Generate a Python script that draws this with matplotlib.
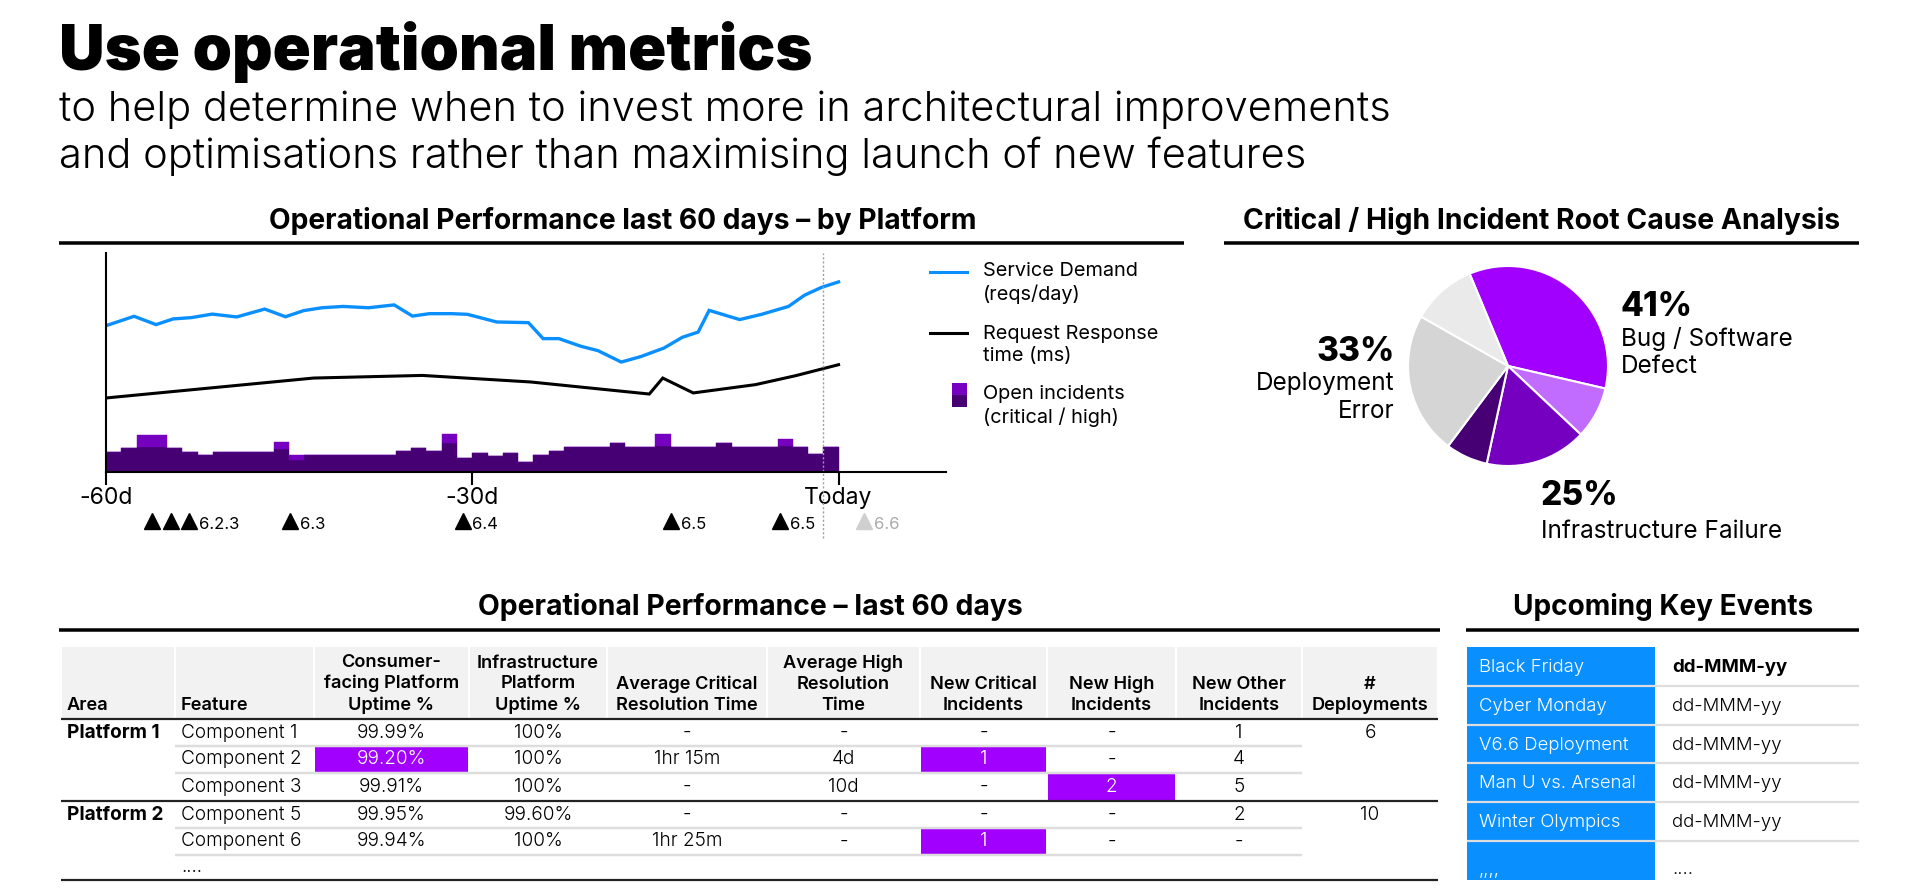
import matplotlib
matplotlib.use('Agg')
import matplotlib.pyplot as plt
from matplotlib.patches import Rectangle
import numpy as np

W, H = 1914, 896
FONT = 'Inter'
plt.rcParams['font.family'] = [FONT, 'DejaVu Sans']

# ---------------- data ----------------
# service demand (relative scale 0-100), day offsets from today
demand_days = [-60, -57.7, -55.9, -54.5, -53.0, -51.3, -49.3, -47.0, -45.3, -43.8, -42.3, -40.6,
               -38.5, -36.4, -34.9, -33.5, -31.7, -30.4, -28.0, -25.4, -24.2, -22.9, -21.1, -19.7,
               -17.8, -16.2, -14.3, -12.8, -11.5, -10.6, -8.1, -6.3, -4.1, -2.8, -1.4, 0]
demand = [66.8, 71.1, 67.3, 69.9, 70.5, 72.1, 70.8, 74.4, 70.9, 73.7, 75.0, 75.6,
          75.0, 76.3, 71.2, 72.3, 72.3, 72.0, 68.5, 68.2, 60.9, 60.9, 57.4, 55.4,
          50.2, 52.7, 56.6, 61.5, 63.9, 73.8, 69.6, 72.0, 75.6, 80.7, 84.3, 86.8]

response_days = [-60, -43.0, -34.1, -25.2, -15.5, -14.4, -11.9, -6.8, -3.5, 0]
response = [33.8, 42.9, 44.1, 41.1, 35.6, 42.9, 36.1, 39.9, 44.0, 49.0]

# open incidents per period (48 periods over the last 60 days)
high_incidents = [9.0, 10.8, 11.3, 11.3, 10.8, 9.0, 7.6, 9.0, 9.0, 9.0, 9.0, 10.4,
                  5.5, 7.6, 7.6, 7.6, 7.6, 7.6, 7.6, 9.4, 10.8, 9.4, 13.1, 6.2,
                  8.5, 7.2, 8.5, 4.4, 7.6, 9.4, 11.3, 11.3, 11.3, 13.1, 11.3, 11.3,
                  11.7, 11.3, 11.3, 11.3, 13.1, 11.3, 11.3, 11.3, 11.7, 11.3, 8.1, 11.3]
critical_incidents = [0, 0, 5.5, 5.5, 0, 0, 0, 0, 0, 0, 0, 3.2,
                      2.1, 0, 0, 0, 0, 0, 0, 0, 0, 0, 4.1, 0,
                      0, 0, 0, 0, 0, 0, 0, 0, 0, 0, 0, 0,
                      5.5, 0, 0, 0, 0, 0, 0, 0, 3.2, 0, 0, 0]
period_len = 60 / len(high_incidents)

release_days = [-56.2, -54.7, -53.2, -44.9, -30.8, -13.7, -4.8, 2.1]
release_labels = ['', '', '6.2.3', '6.3', '6.4', '6.5', '6.5', '6.6']
release_planned = [False, False, False, False, False, False, False, True]
today_marker = -1.3

# root cause pie
cause_shares = [34.9, 8.4, 16.4, 6.8, 23.0, 10.5]
cause_colors = ['#A100FF', '#C16BFF', '#7500C0', '#460073', '#D5D5D5', '#EAEAEA']

# performance table
headers = ['Area', 'Feature', 'Consumer-\nfacing Platform\nUptime %', 'Infrastructure\nPlatform\nUptime %',
           'Average Critical\nResolution Time', 'Average High\nResolution\nTime', 'New Critical\nIncidents',
           'New High\nIncidents', 'New Other\nIncidents', '#\nDeployments']
areas = ['Platform 1', '', '', 'Platform 2', '', '']
features = ['Component 1', 'Component 2', 'Component 3', 'Component 5', 'Component 6', '....']
consumer_uptime = ['99.99%', '99.20%', '99.91%', '99.95%', '99.94%', '']
infra_uptime = ['100%', '100%', '100%', '99.60%', '100%', '']
avg_critical = ['-', '1hr 15m', '-', '-', '1hr 25m', '']
avg_high = ['-', '4d', '10d', '-', '-', '']
new_critical = ['-', '1', '-', '-', '1', '']
new_high = ['-', '-', '2', '-', '-', '']
new_other = ['1', '4', '5', '2', '-', '']
deployments = ['6', '', '', '10', '', '']
flagged = [(1, 2), (1, 6), (2, 7), (4, 6)]

events = ['Black Friday', 'Cyber Monday', 'V6.6 Deployment', 'Man U vs. Arsenal', 'Winter Olympics', ',,,,']
event_dates = ['dd-MMM-yy', 'dd-MMM-yy', 'dd-MMM-yy', 'dd-MMM-yy', 'dd-MMM-yy', '....']

PURPLE = '#A100FF'
BLUE = '#0A8FFF'

# ---------------- figure ----------------
fig = plt.figure(figsize=(W / 100, H / 100), dpi=100)
renderer = fig.canvas.get_renderer()
ov = fig.add_axes([0, 0, 1, 1])
ov.set_xlim(0, W)
ov.set_ylim(H, 0)
ov.axis('off')


def txt(x, y, s, width=None, **kw):
    t = ov.text(x, y, s, **kw)
    if width:
        w = t.get_window_extent(renderer).width
        t.set_fontsize(t.get_fontsize() * width / w)
    return t


def fitted_size(s, width, **kw):
    # measure a throwaway text to get the font size that gives this width
    t = txt(W / 2, H / 2, s, width=width, **kw)
    size = t.get_fontsize()
    t.remove()
    return size


def hline(x0, x1, y, lw=3.5, color='black'):
    ov.plot([x0, x1], [y, y], color=color, lw=lw * 0.72, solid_capstyle='butt')


# header
txt(59, 70, 'Use operational metrics', width=753, fontsize=40, fontweight=900, va='baseline')
sub = txt(59, 121, 'to help determine when to invest more in architectural improvements',
          width=1330, fontsize=24, fontweight=300, va='baseline')
txt(59, 168, 'and optimisations rather than maximising launch of new features',
    fontsize=sub.get_fontsize(), fontweight=300, va='baseline')

# section titles
txt(623, 229, 'Operational Performance last 60 days \u2013 by Platform', width=708, fontsize=18,
    fontweight=700, ha='center', va='baseline')
hline(59, 1184, 243)
txt(1542, 229, 'Critical / High Incident Root Cause Analysis', width=597, fontsize=18,
    fontweight=700, ha='center', va='baseline')
hline(1224, 1859, 243)
txt(750, 615, 'Operational Performance \u2013 last 60 days', width=545, fontsize=18,
    fontweight=700, ha='center', va='baseline')
hline(59, 1440, 630)
txt(1663, 615, 'Upcoming Key Events', width=300, fontsize=18,
    fontweight=700, ha='center', va='baseline')
hline(1466, 1859, 630)

# ---------------- line chart ----------------
ax = fig.add_axes([106 / W, 1 - 472 / H, 840 / W, 219 / H])
ax.patch.set_alpha(0)
bar_starts = np.arange(-60, 0, period_len)
ax.bar(bar_starts, high_incidents, width=period_len, align='edge', color='#460073',
       edgecolor='#460073', linewidth=0.3)
ax.bar(bar_starts, critical_incidents, bottom=high_incidents, width=period_len, align='edge',
       color='#7500C0', edgecolor='#7500C0', linewidth=0.3)
ax.plot(demand_days, demand, color=BLUE, lw=2.4, solid_joinstyle='miter')
ax.plot(response_days, response, color='black', lw=2.2, solid_joinstyle='miter')
ax.axvline(today_marker, ymin=-0.30, ymax=1.0, clip_on=False, color='#a0a0a0',
           ls=(0, (1.5, 1.5)), lw=1)
ax.set_xlim(-60, 8.8)
ax.set_ylim(0, 100)
for s in ['top', 'right']:
    ax.spines[s].set_visible(False)
for s in ['left', 'bottom']:
    ax.spines[s].set_linewidth(1.5)
ax.set_yticks([])
ax.set_xticks([-60, -30, 0])
ax.set_xticklabels(['-60d', '-30d', 'Today'])
ax.tick_params(axis='x', length=9, width=1.5, pad=2, labelsize=16.5)

xt = ax.get_xaxis_transform()
for d, lab, planned in zip(release_days, release_labels, release_planned):
    c = '#cfcfcf' if planned else 'black'
    ax.plot(d, -0.222, marker='^', ms=11, color=c, transform=xt, clip_on=False)
    if lab:
        ax.text(d + 0.8, -0.24, lab, transform=xt, fontsize=12, color='#aaaaaa' if planned else 'black',
                va='center', ha='left')

# legend
lsize = fitted_size('Request Response', 175, fontsize=13)
ov.plot([930, 967], [272, 272], color=BLUE, lw=2.2)
txt(983, 283, 'Service Demand\n(reqs/day)', fontsize=lsize, va='center', linespacing=1.25)
ov.plot([930, 967], [333, 333], color='black', lw=2.2)
txt(983, 345, 'Request Response\ntime (ms)', fontsize=lsize, va='center', linespacing=1.25)
ov.add_patch(Rectangle((952, 383), 15, 12, color='#7500C0', lw=0))
ov.add_patch(Rectangle((952, 395), 15, 12, color='#460073', lw=0))
txt(983, 406, 'Open incidents\n(critical / high)', fontsize=lsize, va='center', linespacing=1.25)

# ---------------- pie ----------------
axp = fig.add_axes([1383 / W, 1 - 491 / H, 250 / W, 250 / H])
axp.pie(cause_shares, colors=cause_colors, startangle=112.6, counterclock=False,
        wedgeprops=dict(edgecolor='white', linewidth=1.5))
axp.set_aspect('equal')

bsz = fitted_size('41%', 72, fontsize=26, fontweight=800)
psz = fitted_size('Infrastructure Failure', 242, fontsize=16)
txt(1621, 316, '41%', fontsize=bsz, fontweight=800, va='baseline')
txt(1621, 346, 'Bug / Software', fontsize=psz, va='baseline')
txt(1621, 373, 'Defect', fontsize=psz, va='baseline')
txt(1395, 361, '33%', fontsize=bsz, fontweight=800, ha='right', va='baseline')
txt(1395, 390, 'Deployment', fontsize=psz, ha='right', va='baseline')
txt(1395, 418, 'Error', fontsize=psz, ha='right', va='baseline')
txt(1541, 505, '25%', fontsize=bsz, fontweight=800, va='baseline')
txt(1541, 538, 'Infrastructure Failure', fontsize=psz, va='baseline')

# ---------------- performance table ----------------
col_edges = [61, 175, 314, 469, 607, 767, 920, 1047, 1176, 1302, 1438]
row_edges = [719, 746, 773, 801, 828, 855, 880]
head_top = 647

hsize = fitted_size('Average Critical', 142, fontsize=12, fontweight=600)
bsize = fitted_size('Component 1', 116, fontsize=12, fontweight=300)

for j, hd in enumerate(headers):
    x0, x1 = col_edges[j], col_edges[j + 1]
    ov.add_patch(Rectangle((x0 + 1, head_top), x1 - x0 - 2, row_edges[0] - head_top, color='#F2F2F2', lw=0))
    if j < 2:
        ov.text(x0 + 6, 714, hd, fontsize=hsize, fontweight=600, ha='left', va='bottom')
    else:
        ov.text((x0 + x1) / 2, 714, hd, fontsize=hsize, fontweight=600, ha='center', va='bottom',
                multialignment='center', linespacing=1.3)

columns = [areas, features, consumer_uptime, infra_uptime, avg_critical, avg_high,
           new_critical, new_high, new_other, deployments]
for (r, c) in flagged:
    ov.add_patch(Rectangle((col_edges[c] + 1, row_edges[r] + 1), col_edges[c + 1] - col_edges[c] - 2,
                           row_edges[r + 1] - row_edges[r] - 2, color=PURPLE, lw=0))
for r in range(len(features)):
    yc = (row_edges[r] + row_edges[r + 1]) / 2
    for c, col in enumerate(columns):
        s = col[r]
        if not s:
            continue
        color = 'white' if (r, c) in flagged else 'black'
        if c == 0:
            ov.text(col_edges[0] + 6, yc, s, fontsize=bsize, fontweight=700, ha='left', va='center')
        elif c == 1:
            ov.text(col_edges[1] + 6, yc, s, fontsize=bsize, fontweight=300, ha='left', va='center')
        else:
            ov.text((col_edges[c] + col_edges[c + 1]) / 2, yc, s, fontsize=bsize, fontweight=300,
                    ha='center', va='center', color=color)

hline(col_edges[0], col_edges[-1], row_edges[0], lw=2.2, color='#222222')
for y in [row_edges[1], row_edges[2], row_edges[4], row_edges[5]]:
    hline(col_edges[1], col_edges[-2], y, lw=2.5, color='#DDDDDD')
hline(col_edges[0], col_edges[-1], row_edges[3], lw=2.2, color='#222222')
hline(col_edges[0], col_edges[-1], row_edges[-1], lw=2.2, color='#222222')

# ---------------- events ----------------
ev_edges = np.linspace(647, 880, len(events) + 1)
esize = fitted_size('V6.6 Deployment', 150, fontsize=13, fontweight=300)
for i, (ev, dt) in enumerate(zip(events, event_dates)):
    y0, y1 = ev_edges[i], ev_edges[i + 1]
    ov.add_patch(Rectangle((1467, y0), 188, y1 - y0, color=BLUE, lw=0))
    yc = (y0 + y1) / 2 + 1 if i < len(events) - 1 else y1 - 10
    ov.text(1479, yc, ev, fontsize=esize, fontweight=300, color='white', va='center')
    ov.text(1672, yc, dt, fontsize=esize, fontweight=700 if i == 0 else 300, color='black', va='center')
    if i > 0:
        hline(1467, 1859, y0, lw=2.2, color='#DDDDDD')

fig.savefig('out.png', dpi=100)
